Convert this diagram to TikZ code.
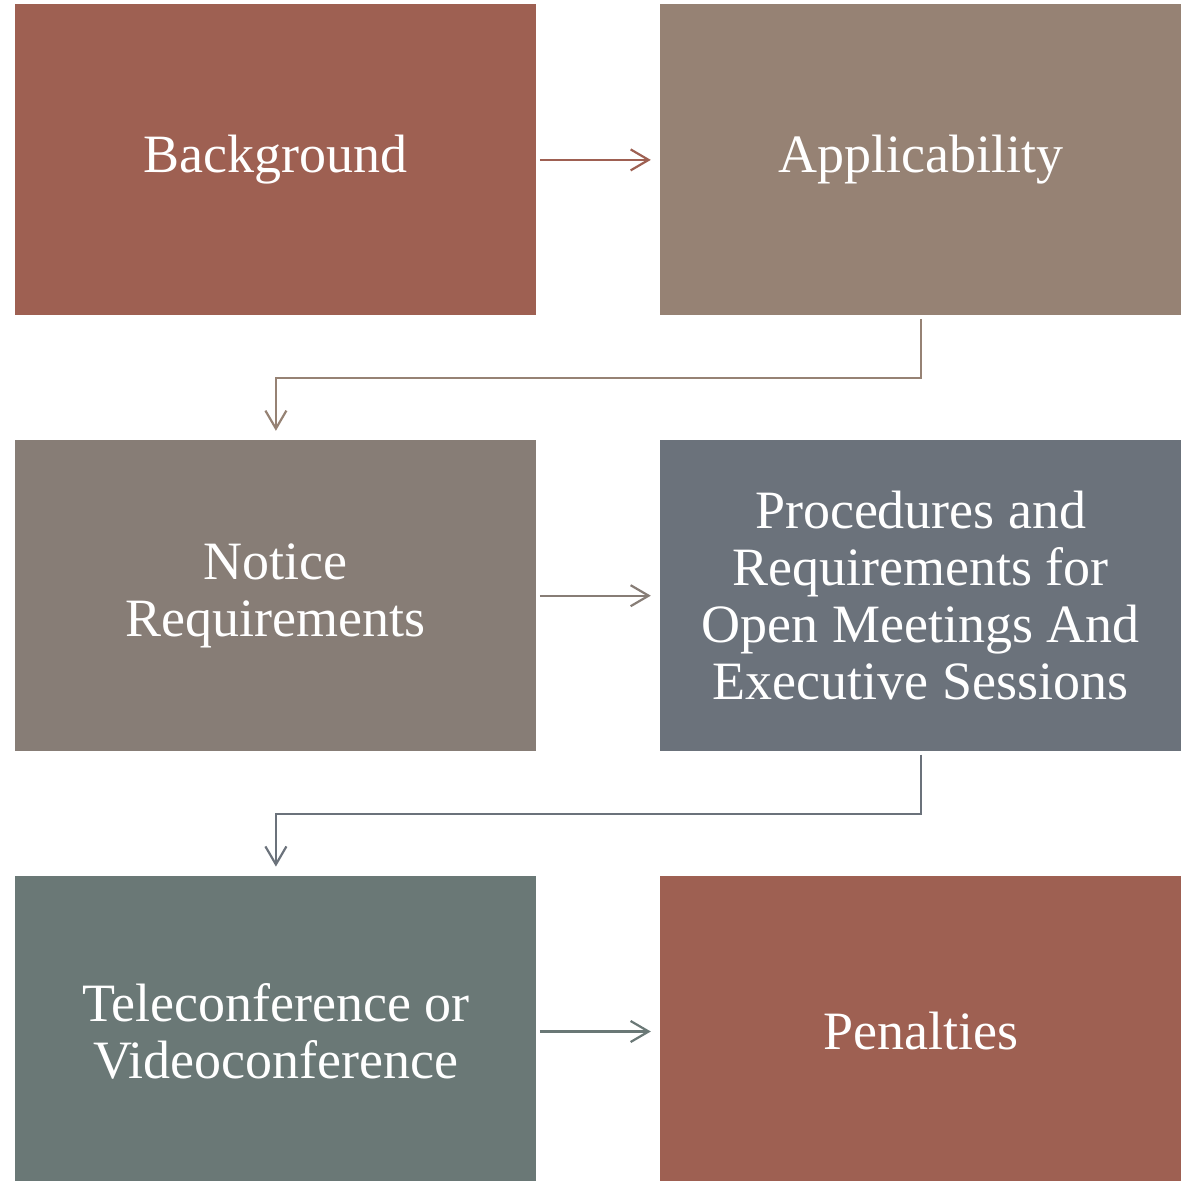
\documentclass[tikz,border=0pt]{standalone}
\usepackage{fontspec}
\setmainfont{Liberation Serif}
\usetikzlibrary{positioning,arrows.meta}

\definecolor{rust}{HTML}{9E6052}
\definecolor{taupe}{HTML}{968274}
\definecolor{greige}{HTML}{877D76}
\definecolor{slate}{HTML}{6B727B}
\definecolor{sage}{HTML}{6A7876}

\begin{document}
\begin{tikzpicture}[
    topic/.style={rectangle, minimum width=260.5pt, minimum height=155.5pt, inner sep=0pt, align=center, text=white, font=\fontsize{27}{28.5}\selectfont},
    flow/.style={-{Straight Barb[length=9pt,width=10.5pt]}, line width=1.1pt, shorten <=1.5pt, shorten >=4.5pt},
    node distance=62pt and 61.5pt
  ]

    \useasboundingbox (0,0) rectangle (593.5pt,-590.5pt);

    % Row 1: Background, Applicability
    \node[topic, fill=rust, anchor=north west] (background) at (7.5pt,-2pt) {Background};
    \node[topic, fill=taupe, right=of background] (applic) {Applicability};

    % Row 2: Notice, Procedures
    \node[topic, fill=greige, below=of background] (notice) {Notice\\Requirements};
    \node[topic, fill=slate, right=of notice] (proc) {Procedures and\\Requirements for\\Open Meetings And\\Executive Sessions};

    % Row 3: Teleconference, Penalties
    \node[topic, fill=sage, below=of notice] (tele) {Teleconference or\\Videoconference};
    \node[topic, fill=rust, right=of tele] (penalty) {Penalties};

    % Flow
    \draw[flow, draw=rust] (background) -- (applic);
    \draw[flow, draw=taupe] (applic.south) -- ++(0,-31pt) -| (notice.north);
    \draw[flow, draw=greige] (notice) -- (proc);
    \draw[flow, draw=slate] (proc.south) -- ++(0,-31pt) -| (tele.north);
    \draw[flow, draw=sage] (tele) -- (penalty);
  \end{tikzpicture}
\end{document}
